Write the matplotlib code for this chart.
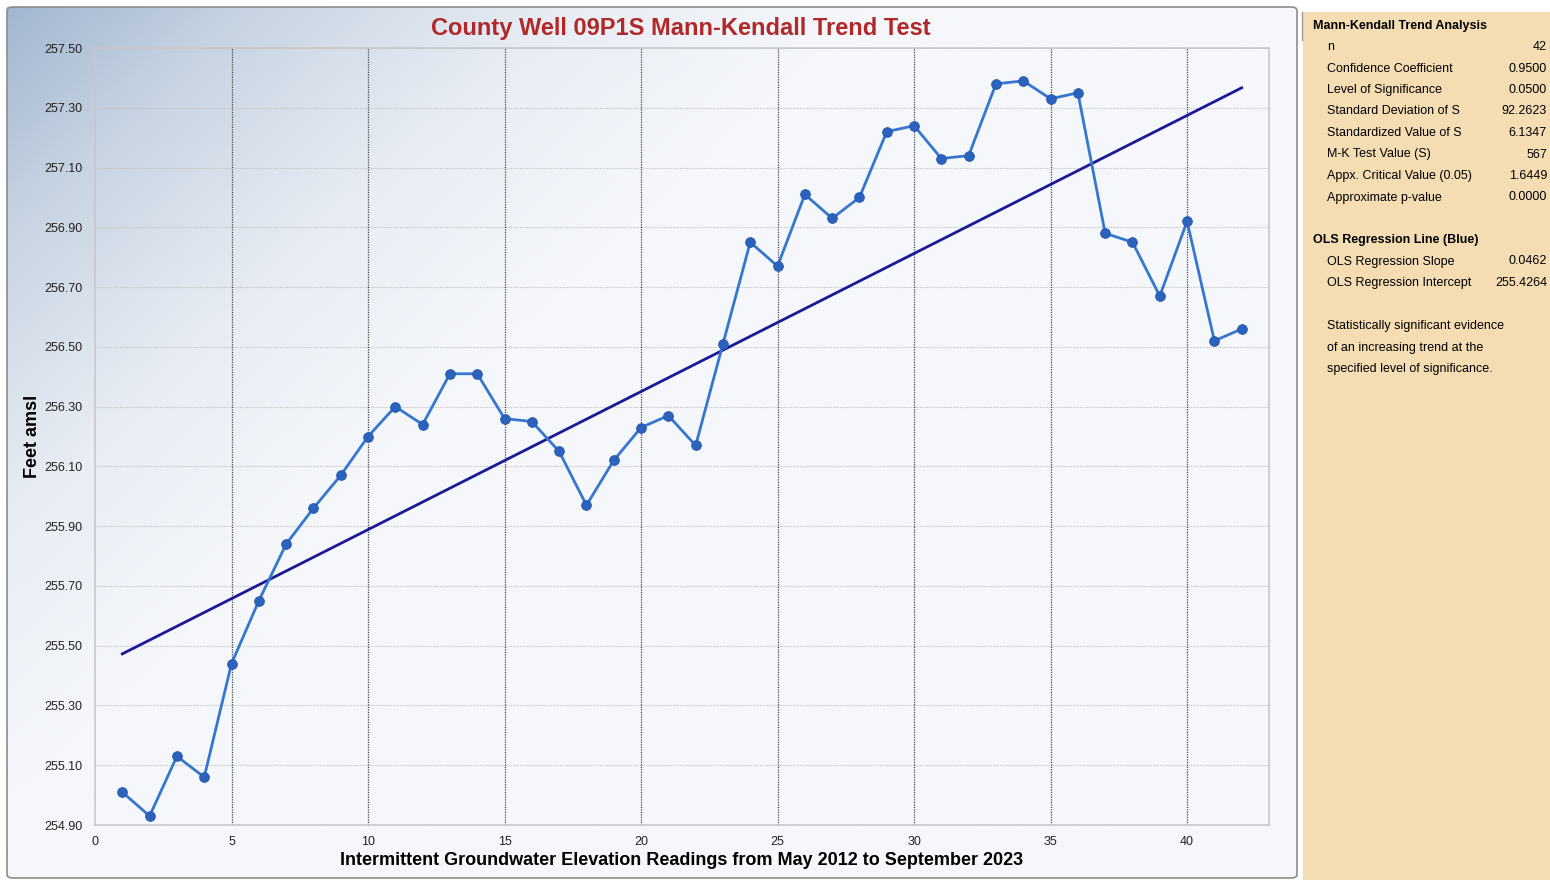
import numpy as np
import matplotlib
matplotlib.use('Agg')
import matplotlib.pyplot as plt
from matplotlib.patches import FancyBboxPatch, Rectangle
from matplotlib.colors import LinearSegmentedColormap

TITLE = "County Well 09P1S Mann-Kendall Trend Test"
X_LABEL = "Intermittent Groundwater Elevation Readings from May 2012 to September 2023"
Y_LABEL = "Feet amsl"

# groundwater elevation readings (feet amsl), reading index 1..42
reading = list(range(1, 43))
elevation = [
    255.01, 254.93, 255.13, 255.06, 255.44, 255.65, 255.84, 255.96, 256.07, 256.20,
    256.30, 256.24, 256.41, 256.41, 256.26, 256.25, 256.15, 255.97, 256.12, 256.23,
    256.27, 256.17, 256.51, 256.85, 256.77, 257.01, 256.93, 257.00, 257.22, 257.24,
    257.13, 257.14, 257.38, 257.39, 257.33, 257.35, 256.88, 256.85, 256.67, 256.92,
    256.52, 256.56,
]

ols_slope = 0.0462
ols_intercept = 255.4264

y_ticks = [254.90, 255.10, 255.30, 255.50, 255.70, 255.90, 256.10, 256.30, 256.50,
           256.70, 256.90, 257.10, 257.30, 257.50]
x_ticks = [0, 5, 10, 15, 20, 25, 30, 35, 40]

mk_rows = [
    ("n", "42"),
    ("Confidence Coefficient", "0.9500"),
    ("Level of Significance", "0.0500"),
    ("Standard Deviation of S", "92.2623"),
    ("Standardized Value of S", "6.1347"),
    ("M-K Test Value (S)", "567"),
    ("Appx. Critical Value (0.05)", "1.6449"),
    ("Approximate p-value", "0.0000"),
]
ols_rows = [
    ("OLS Regression Slope", "0.0462"),
    ("OLS Regression Intercept", "255.4264"),
]
conclusion = [
    "Statistically significant evidence",
    "of an increasing trend at the",
    "specified level of significance.",
]

W, H = 1550, 880
FONT = "Liberation Sans"

fig = plt.figure(figsize=(W / 100, H / 100), dpi=100)
fig.patch.set_facecolor("white")

# gradient background for the chart panel (dark corner top-left)
bg = fig.add_axes([7 / W, 2 / H, 1290 / W, 871 / H])
bg.set_axis_off()
gx, gy = np.meshgrid(np.linspace(0, 1, 400), np.linspace(0, 1, 300))
t = np.clip(gx * 1.5 + gy * 1.1, 0, 1)
cmap = LinearSegmentedColormap.from_list(
    "bg", [(0, "#a2b7d0"), (0.3, "#c9d5e3"), (0.65, "#e8edf4"), (1, "#f5f7fb")])
bg.imshow(t, cmap=cmap, aspect="auto", extent=[0, 1, 1, 0], vmin=0, vmax=1)
bg.set_xlim(0, 1)
bg.set_ylim(1, 0)

fig.patches.append(FancyBboxPatch((7 / W, 2 / H), 1290 / W, 871 / H, boxstyle="round,pad=0,rounding_size=0.004",
                                  transform=fig.transFigure, fill=False, edgecolor="#8c8c8c", linewidth=1.2))

# side panel
fig.patches.append(Rectangle((1303 / W, 0), (W - 1303) / W, (H - 12) / H, transform=fig.transFigure,
                             facecolor="#f5ddb3", edgecolor="none"))
fig.lines.append(plt.Line2D([1302 / W, 1302 / W], [1 - 12 / H, 1 - 40 / H], transform=fig.transFigure,
                            color="#9a9a9a", linewidth=1))

ax = fig.add_axes([95 / W, 55 / H, (1269 - 95) / W, (825 - 48) / H])
ax.patch.set_alpha(0)
ax.set_xlim(0, 43)
ax.set_ylim(254.90, 257.50)

ax.set_yticks(y_ticks)
ax.set_yticklabels([f"{v:.2f}" for v in y_ticks], fontsize=9, family=FONT, color="#222222")
ax.set_xticks(x_ticks)
ax.set_xticklabels([str(v) for v in x_ticks], fontsize=9, family=FONT, color="#222222")
ax.tick_params(axis="y", length=0, pad=9)
ax.tick_params(axis="x", length=0, pad=8)

ax.grid(axis="y", linestyle=(0, (1, 1)), color="#c4c4c4", linewidth=0.8)
for xv in x_ticks[1:]:
    ax.axvline(xv, linestyle=(0, (1, 1)), color="#444444", linewidth=0.9, zorder=1)
ax.set_axisbelow(True)
for s in ax.spines.values():
    s.set_color("#c6c8cc")
    s.set_linewidth(1.2)

ax.plot(reading, elevation, color="#3577cf", linewidth=2, marker="o", markersize=7,
        markerfacecolor="#2b62bd", markeredgecolor="#2456ad", markeredgewidth=0.6, zorder=3)

x_fit = np.array([reading[0], reading[-1]])
ax.plot(x_fit, ols_intercept + ols_slope * x_fit, color="#1a1896", linewidth=2, zorder=2)

ax.set_xlabel(X_LABEL, fontsize=13, fontweight="bold", labelpad=3, family=FONT)
ax.set_ylabel(Y_LABEL, fontsize=13, fontweight="bold", labelpad=2, family=FONT)
fig.text(681 / W, 1 - 28 / H, TITLE, ha="center", va="center", fontsize=17, fontweight="bold",
         color="#b02828", family=FONT)

# side panel text
px0, px1, px2 = 1313 / W, 1327 / W, 1547 / W
def ty(py):
    return 1 - py / H

fig.text(px0, ty(26), "Mann-Kendall Trend Analysis", fontsize=9, fontweight="bold", va="center", family=FONT)
for i, (lab, val) in enumerate(mk_rows):
    y = ty(47 + i * 21.5)
    fig.text(px1, y, lab, fontsize=9, va="center", family=FONT)
    fig.text(px2, y, val, fontsize=9, va="center", ha="right", family=FONT)
fig.text(px0, ty(240), "OLS Regression Line (Blue)", fontsize=9, fontweight="bold", va="center", family=FONT)
for i, (lab, val) in enumerate(ols_rows):
    y = ty(261.5 + i * 21.5)
    fig.text(px1, y, lab, fontsize=9, va="center", family=FONT)
    fig.text(px2, y, val, fontsize=9, va="center", ha="right", family=FONT)
for i, line in enumerate(conclusion):
    fig.text(px1, ty(326 + i * 21.5), line, fontsize=9, va="center", family=FONT)

fig.savefig("out.png", dpi=100)
